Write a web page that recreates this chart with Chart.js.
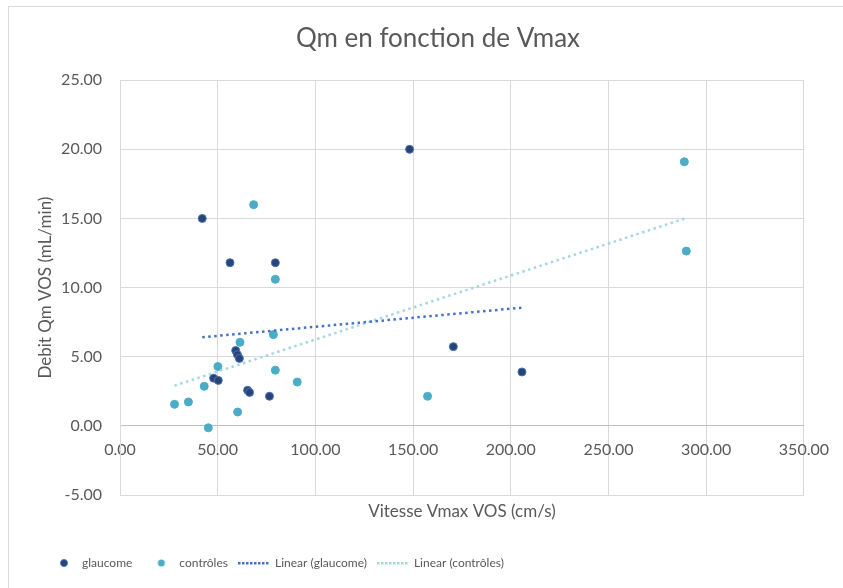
<!DOCTYPE html>
<html lang="fr">
<head>
<meta charset="UTF-8">
<title>Qm en fonction de Vmax</title>
<script src="https://cdn.jsdelivr.net/npm/chart.js"></script>
<style>
    body {
        margin: 0;
        background: #ffffff;
    }
    .frame {
        position: absolute;
        left: 8px;
        top: 6px;
        width: 900px;
        height: 700px;
        border-left: 1px solid #d9d9d9;
        border-top: 1px solid #d9d9d9;
    }
    #chart {
        position: absolute;
        left: 0;
        top: 0;
    }
</style>
</head>
<body>
<div class="frame"></div>
<canvas id="chart" width="843" height="588"></canvas>

<script>
// Mesures : vitesse Vmax VOS (cm/s) et débit Qm VOS (mL/min)
const glaucomeVmax = [42.1, 56.3, 79.5, 148.2, 170.6, 205.7, 59.2, 60.1, 61.1, 47.9, 50.3, 65.3, 66.3, 76.5];
const glaucomeQm   = [15.0, 11.8, 11.8, 20.0, 5.73, 3.90, 5.45, 5.15, 4.88, 3.45, 3.29, 2.57, 2.42, 2.14];

const controlesVmax = [68.4, 79.5, 61.4, 78.5, 50.1, 79.5, 90.7, 43.1, 35.0, 27.9, 60.2, 45.2, 157.4, 288.8, 289.8];
const controlesQm   = [16.0, 10.6, 6.04, 6.6, 4.29, 4.03, 3.17, 2.86, 1.73, 1.56, 1.0, -0.14, 2.14, 19.1, 12.64];

const seriesNames = ['glaucome', 'contrôles', 'Linear (glaucome)', 'Linear (contrôles)'];

// bornes des axes
const xRange = [0, 350, 50];
const yRange = [-5, 25, 5];

const grey = '#595959';
const navy = '#264478';
const navyEdge = '#4a72b4';
const teal = '#4bacc6';
const trendBlue = '#4472c4';
const trendTeal = '#a5d6e2';

function toPoints(xs, ys) {
    return xs.map((x, i) => ({ x: x, y: ys[i] }));
}

// droite des moindres carrés, tracée entre le min et le max des x
function linearFit(xs, ys) {
    const n = xs.length;
    const mx = xs.reduce((a, b) => a + b, 0) / n;
    const my = ys.reduce((a, b) => a + b, 0) / n;
    let sxy = 0, sxx = 0;
    for (let i = 0; i < n; i++) {
        sxy += (xs[i] - mx) * (ys[i] - my);
        sxx += (xs[i] - mx) * (xs[i] - mx);
    }
    const a = sxy / sxx;
    const b = my - a * mx;
    const x0 = Math.min(...xs), x1 = Math.max(...xs);
    return [{ x: x0, y: a * x0 + b }, { x: x1, y: a * x1 + b }];
}

// petits symboles de légende
function legendDot(fill, edge) {
    const c = document.createElement('canvas');
    c.width = 31; c.height = 10;
    const g = c.getContext('2d');
    g.beginPath();
    g.arc(19, 5, 3.5, 0, Math.PI * 2);
    g.fillStyle = fill;
    g.fill();
    if (edge) { g.strokeStyle = edge; g.lineWidth = 1; g.stroke(); }
    return c;
}

function legendDots(color) {
    const c = document.createElement('canvas');
    c.width = 31; c.height = 10;
    const g = c.getContext('2d');
    g.fillStyle = color;
    for (let x = 0; x < 31; x += 4) g.fillRect(x, 4, 2.5, 2.5);
    return c;
}

const legendIcons = [
    legendDot(navy, navyEdge),
    legendDot(teal),
    legendDots(trendBlue),
    legendDots(trendTeal)
];

const PAD_LEFT = 35;

const chart = new Chart(document.getElementById('chart'), {
    type: 'scatter',
    data: {
        datasets: [
            {
                label: seriesNames[0],
                data: toPoints(glaucomeVmax, glaucomeQm),
                pointRadius: 4,
                pointBackgroundColor: navy,
                pointBorderColor: navyEdge,
                pointBorderWidth: 1,
                order: 1
            },
            {
                label: seriesNames[1],
                data: toPoints(controlesVmax, controlesQm),
                pointRadius: 4,
                pointBackgroundColor: teal,
                pointBorderColor: teal,
                pointBorderWidth: 1,
                order: 1
            },
            {
                label: seriesNames[2],
                type: 'line',
                data: linearFit(glaucomeVmax, glaucomeQm),
                borderColor: trendBlue,
                borderWidth: 2.5,
                borderDash: [2.5, 3.5],
                pointRadius: 0,
                fill: false,
                order: 0
            },
            {
                label: seriesNames[3],
                type: 'line',
                data: linearFit(controlesVmax, controlesQm),
                borderColor: trendTeal,
                borderWidth: 2.5,
                borderDash: [2.5, 3.5],
                pointRadius: 0,
                fill: false,
                order: 0
            }
        ]
    },
    options: {
        responsive: false,
        animation: false,
        devicePixelRatio: 1,
        layout: {
            padding: { left: PAD_LEFT, right: 2, top: 0, bottom: 9 }
        },
        plugins: {
            title: {
                display: true,
                text: 'Qm en fonction de Vmax',
                color: grey,
                font: { family: 'Lato', size: 26, weight: 'normal' },
                padding: { top: 23, bottom: 26 }
            },
            legend: {
                position: 'bottom',
                align: 'start',
                labels: {
                    usePointStyle: true,
                    pointStyleWidth: 31,
                    padding: 10,
                    color: grey,
                    font: { family: 'Lato', size: 12 },
                    generateLabels: function (c) {
                        return c.data.datasets.map((ds, i) => ({
                            text: ds.label,
                            pointStyle: legendIcons[i],
                            fontColor: grey,
                            hidden: false,
                            lineWidth: 0,
                            datasetIndex: i
                        }));
                    }
                }
            },
            tooltip: { enabled: false }
        },
        scales: {
            x: {
                type: 'linear',
                position: { y: 0 },
                min: xRange[0],
                max: xRange[1],
                ticks: {
                    stepSize: xRange[2],
                    color: grey,
                    font: { family: 'Lato', size: 16 },
                    padding: 14,
                    callback: v => v.toFixed(2)
                },
                grid: { color: '#d9d9d9', drawTicks: false },
                border: { color: '#bfbfbf' }
            },
            xTitle: {
                type: 'linear',
                axis: 'x',
                position: 'bottom',
                min: xRange[0],
                max: xRange[1],
                ticks: { display: false },
                grid: { display: false, drawTicks: false },
                border: { display: false },
                title: {
                    display: true,
                    text: 'Vitesse Vmax VOS (cm/s)',
                    color: grey,
                    font: { family: 'Lato', size: 17 },
                    padding: { top: 6, bottom: 25 }
                },
                afterFit: s => { s.height = 52; }
            },
            y: {
                type: 'linear',
                min: yRange[0],
                max: yRange[1],
                ticks: {
                    stepSize: yRange[2],
                    color: grey,
                    font: { family: 'Lato', size: 16 },
                    padding: 18,
                    callback: v => v.toFixed(2)
                },
                grid: { color: '#d9d9d9', drawTicks: false },
                border: { color: '#d9d9d9' },
                title: {
                    display: true,
                    text: 'Debit Qm VOS (mL/min)',
                    color: grey,
                    font: { family: 'Lato', size: 17 },
                    padding: { top: 0, bottom: 6 }
                },
                afterFit: s => { s.width = 120 - PAD_LEFT; }
            }
        }
    }
});
</script>
</body>
</html>
